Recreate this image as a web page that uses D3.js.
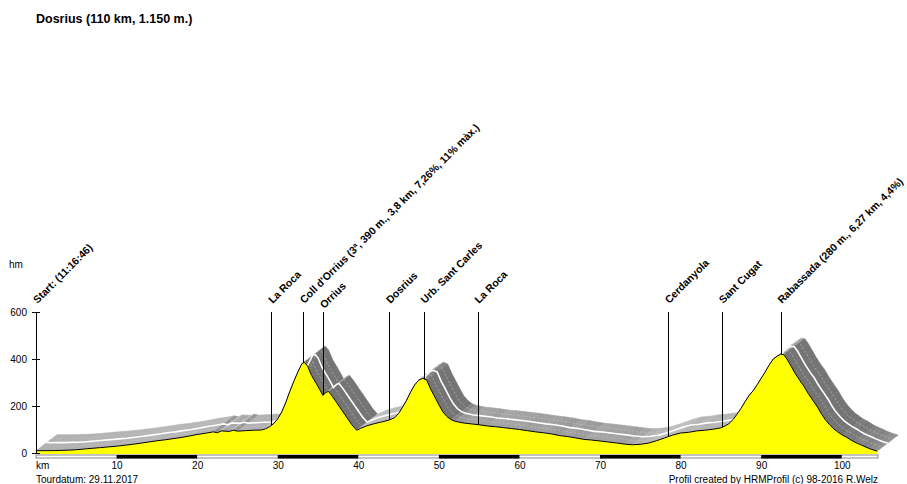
<!DOCTYPE html>
<meta charset="utf-8">
<style>
  body { margin: 0; background: #fff; }
  svg text { font-family: "Liberation Sans", Arial, sans-serif; fill: #000; }
  .axis text { font-size: 10px; }
  .axis path, .axis line { stroke: #000; shape-rendering: crispEdges; }
  .stop text { font-size: 10.5px; font-weight: bold; }
  .stop line { stroke: #000; shape-rendering: crispEdges; }
</style>

<div class="profile"></div>

<script src="https://d3js.org/d3.v7.min.js"></script>
<script>
    // profile: distance (km) and altitude (m)
    var kms = [0, 1, 2, 3, 4, 5, 6, 7, 8, 9, 10, 11, 12, 13, 14, 15, 16, 17, 18, 19, 20, 21, 22, 22.5, 23, 24, 24.5, 25, 26, 27, 28, 28.5,
        29, 29.5, 30, 30.5, 31, 31.5, 32, 32.5, 33, 33.3, 33.7, 34.2, 34.8, 35.3, 35.6, 36, 36.3, 36.8, 37.3, 38, 38.6, 39.2, 39.8,
        40.3, 41, 42, 43, 43.8, 44.5, 45, 45.5, 46, 46.5, 47, 47.5, 48, 48.5, 49, 49.4, 50, 50.5, 51, 51.5, 52, 53, 54, 55, 56, 57,
        58, 59, 60, 61, 62, 63, 64, 65, 66, 67, 68, 69, 70, 71, 72, 73, 74, 75, 76, 77, 78, 79, 80, 81, 82, 83, 84, 85, 85.5, 86,
        86.5, 87, 87.5, 88, 88.5, 89, 89.5, 90, 90.5, 91, 91.5, 92, 92.4, 92.8, 93.2, 93.7, 94.2, 94.8, 95.3, 95.8, 96.4, 97, 97.5,
        98, 98.5, 99, 99.5, 100, 100.6, 101, 101.5, 102, 102.5, 103, 103.5, 104, 104.4];
    var elevation = [10, 10, 10, 11, 12, 14, 17, 20, 23, 26, 29, 33, 37, 42, 47, 52, 56, 61, 66, 72, 79, 84, 90, 86, 94, 92, 97, 93, 95, 97, 98, 103,
        112, 125, 145, 175, 215, 262, 305, 345, 380, 386, 370, 330, 295, 265, 245, 258, 262, 240, 215, 180, 150, 120, 97,
        105, 115, 125, 133, 140, 150, 168, 195, 225, 260, 290, 310, 318, 310, 270, 245, 205, 175, 155, 142, 135, 128, 124, 120, 115, 112,
        108, 104, 100, 95, 90, 86, 81, 74, 70, 64, 58, 55, 51, 47, 43, 38, 35, 37, 42, 52, 64, 76, 85, 88, 94, 97, 101, 107, 115, 125,
        142, 165, 190, 218, 245, 265, 290, 318, 345, 375, 400, 412, 420, 418, 400, 370, 340, 308, 285, 255, 225, 195, 165,
        140, 120, 103, 90, 78, 67, 58, 48, 40, 33, 25, 18, 12, 8];

    // waypoints
    var stopKm = [0, 29.2, 33.1, 35.6, 43.8, 48.1, 54.8, 78.4, 85.1, 92.4];
    var stopNames = ["Start: (11:16:46)", "La Roca", "Coll d'Orrius (3ª, 390 m., 3,8 km, 7,26%, 11% màx.)", "Orrius",
        "Dosrius", "Urb. Sant Carles", "La Roca", "Cerdanyola", "Sant Cugat", "Rabassada (280 m., 6,27 km, 4,4%)"];

    var yTicks = [0, 200, 400, 600];
    var xTicks = [10, 20, 30, 40, 50, 60, 70, 80, 90, 100];

    var width = 907, height = 484;
    var yTop = 312, yBase = 453;
    var off = {dx: 21, dy: -16};   // depth of the 3D ribbon

    var x = d3.scaleLinear().domain([0, 104.5]).range([36, 878]);
    var y = d3.scaleLinear().domain([0, 600]).range([yBase, yTop]);

    var svg = d3.select('.profile')
        .append("svg")
        .attr("width", width)
        .attr("height", height);

    var data = kms.map((k, i) => ({km: k, e: elevation[i]}));
    var pts = data.map((d) => [x(d.km), y(d.e)]);

    // ribbon behind the profile
    var shade = d3.scaleLinear()
        .domain([-0.6, 0, 0.25, 0.6])
        .range(["#c8c8c8", "#b0b0b0", "#939393", "#747474"])
        .clamp(true);

    var quads = [];
    for (var i = 0; i < pts.length - 1; i++) {
        var p0 = pts[i], p1 = pts[i + 1];
        var vx = p1[0] - p0[0], vy = p1[1] - p0[1];
        quads.push({
            poly: [p0, p1, [p1[0] + off.dx, p1[1] + off.dy], [p0[0] + off.dx, p0[1] + off.dy]],
            front: (vx * off.dy - vy * off.dx) < 0,
            ang: Math.atan2(vy, vx)
        });
    }
    quads.sort((a, b) => d3.ascending(a.front, b.front));

    var band = svg.append("g").attr("class", "band");
    band.selectAll("path")
        .data(quads)
        .enter().append("path")
        .attr("d", (d) => "M" + d.poly.join("L") + "Z")
        .attr("fill", (d) => d.front ? shade(d.ang) : "#9a9a9a")
        .attr("stroke", (d) => d.front ? shade(d.ang) : "#9a9a9a")
        .attr("stroke-width", 0.6);

    var shifted = (t) => d3.line()(pts.map((p) => [p[0] + off.dx * t, p[1] + off.dy * t]));

    band.selectAll(".dash")
        .data([0.25, 0.75])
        .enter().append("path")
        .attr("class", "dash")
        .attr("d", shifted)
        .attr("fill", "none")
        .attr("stroke", "#c4c4c4")
        .attr("stroke-width", 0.6)
        .attr("stroke-dasharray", "2,2");

    band.append("path")
        .attr("d", shifted(0.5))
        .attr("fill", "none")
        .attr("stroke", "#fff")
        .attr("stroke-width", 1.6);

    // yellow profile
    svg.append("path")
        .datum(data)
        .attr("d", d3.area().x((d) => x(d.km)).y0(yBase + 1).y1((d) => y(d.e)))
        .attr("fill", "#ffff00");

    svg.append("path")
        .datum(data)
        .attr("d", d3.line().x((d) => x(d.km)).y((d) => y(d.e)))
        .attr("fill", "none")
        .attr("stroke", "#000")
        .attr("stroke-width", 1);

    // km bar
    svg.append("rect")
        .attr("x", x(0)).attr("y", yBase + 2)
        .attr("width", x.range()[1] - x(0)).attr("height", 3)
        .attr("fill", "#fff").attr("stroke", "#555").attr("stroke-width", 0.7);

    svg.selectAll(".kmbar")
        .data(xTicks.filter((t) => (t / 10) % 2 == 1))
        .enter().append("rect")
        .attr("class", "kmbar")
        .attr("x", (d) => x(d))
        .attr("y", yBase + 2)
        .attr("width", (d) => x(Math.min(d + 10, x.domain()[1])) - x(d))
        .attr("height", 3.5)
        .attr("fill", "#000");

    // axes
    var yAxis = d3.axisLeft(y).tickValues(yTicks).tickSize(4).tickSizeOuter(0).tickPadding(5);
    var gy = svg.append("g")
        .attr("class", "y axis")
        .attr("transform", "translate(" + x(0) + ",0)")
        .call(yAxis);
    gy.selectAll(".tick line").attr("x1", 4).attr("x2", -4);
    gy.select(".domain").attr("d", "M0," + yTop + "V" + (yBase + 1));

    var xAxis = d3.axisBottom(x).tickValues(xTicks).tickSize(0).tickPadding(4);
    var gx = svg.append("g")
        .attr("class", "x axis")
        .attr("transform", "translate(0," + (yBase + 5) + ")")
        .call(xAxis);
    gx.select(".domain").remove();

    svg.append("text").attr("x", 36).attr("y", 469).style("font-size", "10px").text("km");
    svg.append("text").attr("x", 9).attr("y", 268).style("font-size", "10px").text("hm");

    // waypoints
    var elevAt = (k) => {
        var j = d3.bisector((d) => d.km).left(data, k);
        if (j <= 0) return data[0].e;
        if (j >= data.length) return data[data.length - 1].e;
        var a = data[j - 1], b = data[j];
        return a.e + (b.e - a.e) * (k - a.km) / (b.km - a.km);
    };

    var stops = svg.append("g").attr("class", "stop")
        .selectAll("g")
        .data(stopKm.map((k, i) => ({km: k, name: stopNames[i], near: i > 0 && k - stopKm[i - 1] < 3})))
        .enter().append("g");

    stops.filter((d) => d.km > 0).append("line")
        .attr("x1", (d) => Math.round(x(d.km)) + 0.5)
        .attr("x2", (d) => Math.round(x(d.km)) + 0.5)
        .attr("y1", yTop)
        .attr("y2", (d) => y(elevAt(d.km)));

    stops.append("text")
        .attr("transform", (d) => "translate(" + (x(d.km) + 1.5) + "," + (d.near ? 309 : 304) + ") rotate(-45)")
        .text((d) => d.name);

    // titles
    svg.append("text")
        .attr("x", 36).attr("y", 23)
        .style("font-size", "12.5px").style("font-weight", "bold")
        .text("Dosrius (110 km, 1.150 m.)");

    svg.append("text")
        .attr("x", 36).attr("y", 483)
        .style("font-size", "10px")
        .text("Tourdatum: 29.11.2017");

    svg.append("text")
        .attr("x", 878).attr("y", 483)
        .attr("text-anchor", "end")
        .style("font-size", "10px")
        .text("Profil created by HRMProfil (c) 98-2016 R.Welz");
</script>
